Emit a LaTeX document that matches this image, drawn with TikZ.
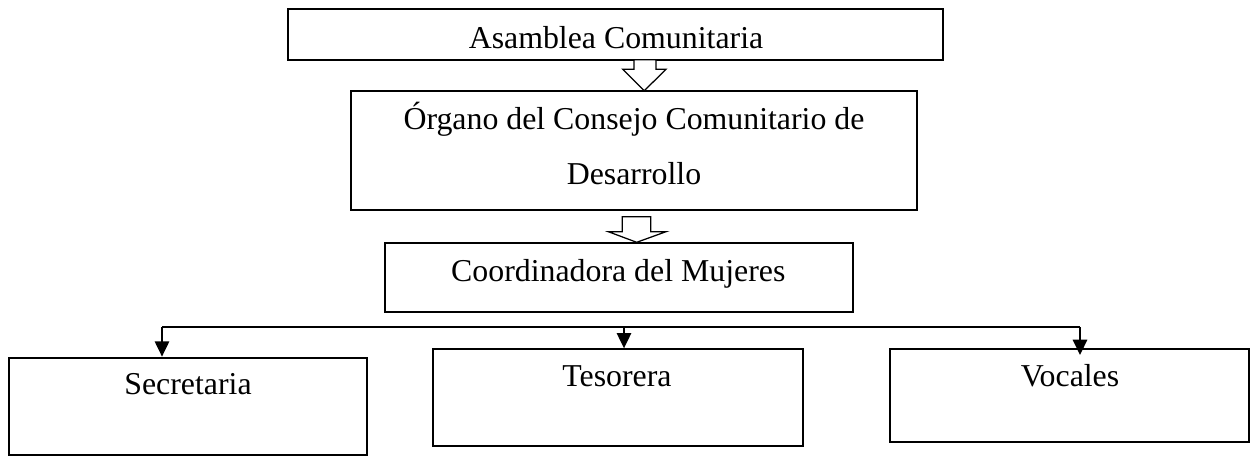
\documentclass[tikz,border=0pt]{standalone}
\usepackage{fontspec}
\setmainfont{Liberation Serif}
\usetikzlibrary{arrows.meta}
\begin{document}
\begin{tikzpicture}[x=0.6pt,y=-0.6pt,
  box/.style={draw,line width=1.2pt,inner sep=0pt,fill=white},
  lbl/.style={anchor=base,inner sep=0pt,font=\fontsize{19.1}{33}\selectfont},
  blockarrow/.style={draw,line width=0.75pt,fill=white,line join=miter},
  conn/.style={line width=1.2pt},
  arr/.style={line width=1.2pt,-{Triangle[length=9.2pt,width=8.6pt]}}]
\useasboundingbox (0,0) rectangle (1250,456);
% boxes
\node[box,minimum width=654.4*0.6pt,minimum height=50.4*0.6pt] (b1) at (615.5,34.5) {};
\node[box,minimum width=565.7*0.6pt,minimum height=119.3*0.6pt] (b2) at (633.8,150.3) {};
\node[box,minimum width=467.7*0.6pt,minimum height=69.2*0.6pt] (b3) at (618.8,277.1) {};
\node[box,minimum width=358*0.6pt,minimum height=97.3*0.6pt] (b4) at (188.3,406.3) {};
\node[box,minimum width=369.4*0.6pt,minimum height=96.7*0.6pt] (b5) at (618,397.7) {};
\node[box,minimum width=358.7*0.6pt,minimum height=92.7*0.6pt] (b6) at (1069.3,395.7) {};
% texts
\node[lbl] (t1) at (616,48.3) {Asamblea Comunitaria};
\node[lbl] (t2a) at (634,130) {Órgano del Consejo Comunitario de};
\node[lbl] (t2b) at (634,185) {Desarrollo};
\node[lbl] (t3) at (618.3,281.7) {Coordinadora del Mujeres};
\node[lbl] (t4) at (188,394) {Secretaria};
\node[lbl] (t5) at (617,386.7) {Tesorera};
\node[lbl] (t6) at (1070,386.7) {Vocales};
% block arrows
\draw[blockarrow] (634,59.7) -- (656,59.7) -- (656,69.3) -- (666,69.3) -- (644.3,90.7)
  -- (622.7,69.3) -- (634,69.3) -- cycle;
\draw[blockarrow] (622.3,216.7) -- (650.7,216.7) -- (650.7,231.7) -- (666,231.7) -- (636.7,242.3)
  -- (608.3,231.7) -- (622.3,231.7) -- cycle;
% connectors
\coordinate (hl) at (162,327);
\coordinate (hm) at (624,327);
\coordinate (hr) at (1080,327);
\draw[conn] (hl) -- (hr);
\draw[arr] (hl) -- (hl |- b4.north);
\draw[arr] (hm) -- (hm |- b5.north);
\draw[arr] (hr) -- ([yshift=-4pt]hr |- b6.north);
\end{tikzpicture}
\end{document}
